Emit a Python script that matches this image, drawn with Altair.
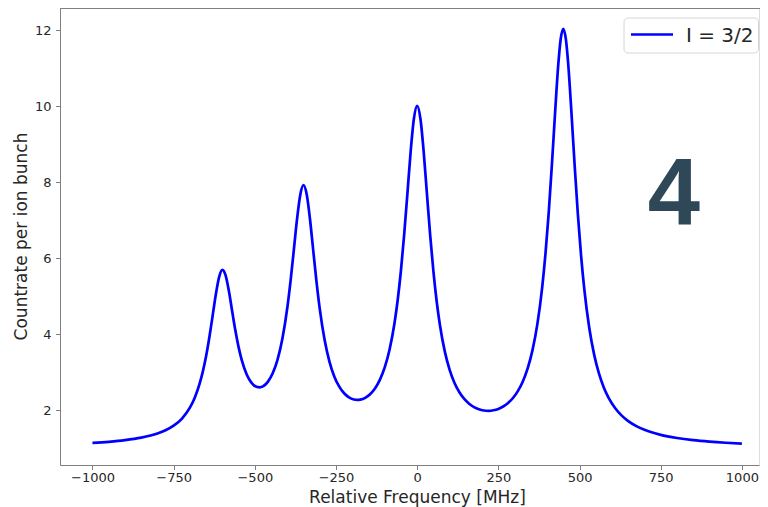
import altair as alt
import pandas as pd

# Relative frequency (MHz) and count rate
freq = [-1000, -950, -900, -850, -800, -775, -750, -725, -700,
        -685, -670, -660, -650, -640, -630, -620, -610, -600,
        -590, -580, -570, -560, -550, -540,
        -525, -510, -495, -485, -475, -460, -445, -430, -415,
        -400, -390, -380, -370, -360, -350, -340, -330, -320, -310, -300,
        -285, -270, -255, -240, -225, -210, -195, -185, -175, -160, -145, -130, -115, -100, -85, -70,
        -60, -50, -40, -30, -20, -10, 0, 10, 20, 30, 40, 50, 60, 70,
        85, 100, 115, 130, 145, 160, 175, 190, 205, 220, 235, 250, 265, 280, 295, 310, 325, 340, 355, 370, 385,
        395, 405, 415, 425, 435, 442, 450, 458, 465, 475, 485, 495, 505, 515,
        530, 545, 560, 575, 590,
        610, 630, 650, 675, 700,
        750, 800, 850, 900, 950, 1000]

counts = [1.140, 1.170, 1.213, 1.279, 1.388, 1.473, 1.594, 1.776, 2.068,
          2.331, 2.699, 3.025, 3.430, 3.924, 4.486, 5.056, 5.508, 5.697,
          5.551, 5.144, 4.620, 4.105, 3.663, 3.313,
          2.943, 2.723, 2.619, 2.605, 2.630, 2.748, 2.973, 3.335, 3.889,
          4.698, 5.401, 6.211, 7.031, 7.676, 7.925, 7.672, 7.023, 6.197, 5.383, 4.671,
          3.849, 3.277, 2.886, 2.622, 2.448, 2.340, 2.285, 2.273, 2.281, 2.328, 2.423, 2.574, 2.800, 3.129, 3.602, 4.286,
          4.903, 5.680, 6.630, 7.718, 8.819, 9.681, 10.014, 9.676, 8.809, 7.703, 6.609, 5.654, 4.870, 4.247,
          3.551, 3.064, 2.720, 2.474, 2.298, 2.172, 2.084, 2.027, 1.995, 1.986, 2.000, 2.037, 2.100, 2.192, 2.324, 2.505, 2.753, 3.097, 3.578, 4.261, 5.238,
          6.110, 7.192, 8.478, 9.877, 11.150, 11.774, 12.042, 11.765, 11.134, 9.849, 8.439, 7.142, 6.048, 5.164,
          4.168, 3.466, 2.963, 2.595, 2.321,
          2.053, 1.859, 1.715, 1.583, 1.485,
          1.352, 1.270, 1.214, 1.175, 1.146, 1.124]

series_name = "I = 3/2"
x_ticks = [-1000, -750, -500, -250, 0, 250, 500, 750, 1000]
y_ticks = [2, 4, 6, 8, 10, 12]
panel_label = ["4"]

assert len(freq) == len(counts)
df = pd.DataFrame({"freq": freq, "counts": counts, "series": [series_name] * len(freq)})

W, H = 699, 457
AX = "#808080"
TXT = "#262626"
BLUE = "#0000ff"

line = alt.Chart(df).mark_line(strokeWidth=2.7, interpolate="monotone", clip=True, color=BLUE).encode(
    x=alt.X("freq:Q",
            scale=alt.Scale(domain=[-1100, 1052.7], nice=False, zero=False),
            axis=alt.Axis(values=x_ticks, format="d", title="Relative Frequency [MHz]",
                          grid=False, labelFontSize=13, labelColor=TXT, labelPadding=2,
                          tickSize=4.5, tickColor=AX, domainColor=AX,
                          titleFontSize=17, titleFontWeight="normal", titleColor=TXT,
                          titleX=357, titleY=37, titleAlign="center", titleBaseline="alphabetic")),
    y=alt.Y("counts:Q",
            scale=alt.Scale(domain=[0.56, 12.59], nice=False, zero=False),
            axis=alt.Axis(values=y_ticks, format="d", title="Countrate per ion bunch",
                          grid=False, labelFontSize=13, labelColor=TXT, labelPadding=4.5,
                          tickSize=4.5, tickColor=AX, domainColor=AX,
                          titleFontSize=17, titleFontWeight="normal", titleColor=TXT,
                          titleX=-34, titleY=228, titleAngle=270, titleAlign="center",
                          titleBaseline="alphabetic")),
    detail="series:N",
)

top_spine = alt.Chart(pd.DataFrame({"k": [0]})).mark_rule(color=AX, strokeWidth=1).encode(
    x=alt.value(0), x2=alt.value(W + 8), y=alt.value(0.5))

# legend (box, line sample, label)
leg_df = pd.DataFrame({"series": [series_name]})
leg_box = alt.Chart(leg_df).mark_rect(fill="white", fillOpacity=0.85, stroke="#d6d6d6",
                                      strokeWidth=1, cornerRadius=4).encode(
    x=alt.value(564), x2=alt.value(698.5), y=alt.value(10), y2=alt.value(45))
leg_line = alt.Chart(leg_df).mark_rule(color=BLUE, strokeWidth=2.7).encode(
    x=alt.value(571), x2=alt.value(613), y=alt.value(26.5))
leg_text = alt.Chart(leg_df).mark_text(fontSize=20, color=TXT, align="left",
                                       baseline="alphabetic").encode(
    text="series:N", x=alt.value(626), y=alt.value(33.8))

label = alt.Chart(pd.DataFrame({"t": panel_label})).mark_text(
    font="Liberation Sans", fontWeight="bold", fontSize=94, color="#2F4858",
    align="center", baseline="alphabetic").encode(
    text="t:N", x=alt.value(614), y=alt.value(216))

chart = alt.layer(line, top_spine, leg_box, leg_line, leg_text, label).properties(
    width=W, height=H,
    padding={"left": 52, "top": 0, "right": 1, "bottom": 42},
    autosize=alt.AutoSizeParams(type="none"),
).configure_view(stroke="transparent").configure(font="DejaVu Sans")

chart.save("out.html", embed_options={"renderer": "svg", "actions": False})
